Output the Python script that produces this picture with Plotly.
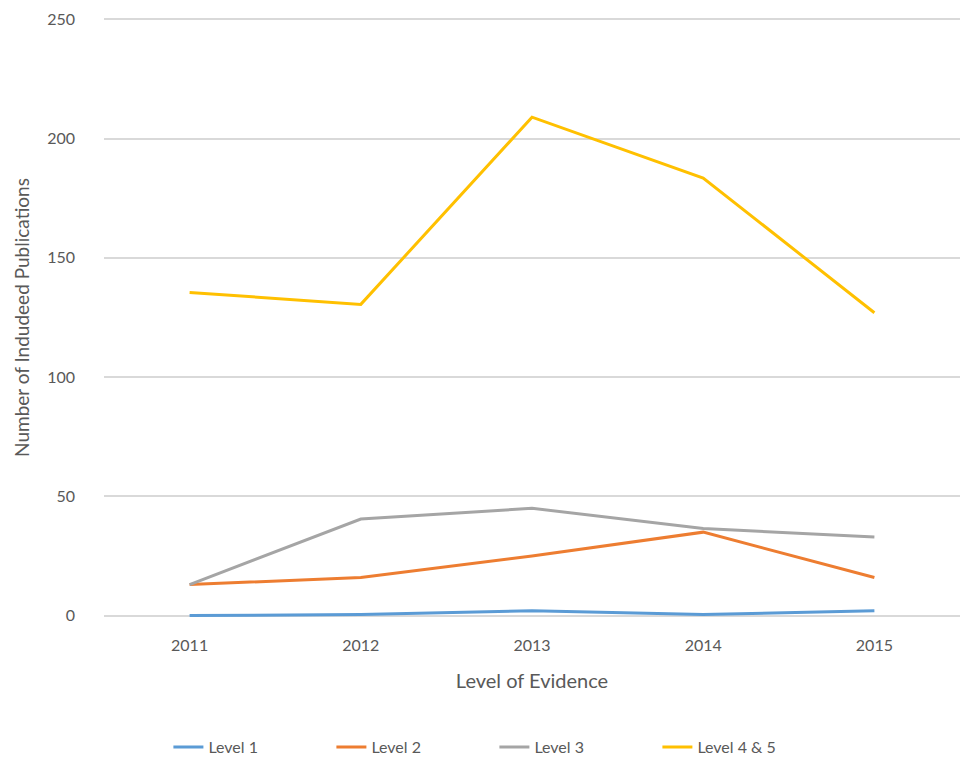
import plotly.graph_objects as go

years = ["2011", "2012", "2013", "2014", "2015"]
level1 = [0, 0.5, 2, 0.5, 2]
level2 = [13, 16, 25, 35, 16]
level3 = [13, 40.5, 45, 36.5, 33]
level45 = [135.5, 130.5, 209, 183.5, 127]

series = [
    ("Level 1", level1, "#5B9BD5"),
    ("Level 2", level2, "#ED7D31"),
    ("Level 3", level3, "#A5A5A5"),
    ("Level 4 & 5", level45, "#FFC000"),
]

fig = go.Figure()
for name, vals, color in series:
    fig.add_trace(go.Scatter(x=years, y=vals, name=name, mode="lines",
                             line=dict(color=color, width=3)))

font_color = "#595959"
grid_color = "#D9D9D9"
fig.update_layout(
    width=960, height=764,
    margin=dict(l=104, r=0, t=17, b=146, autoexpand=False),
    paper_bgcolor="white", plot_bgcolor="white",
    font=dict(family="Lato, Open Sans, sans-serif", size=16, color=font_color),
    xaxis=dict(type="category", range=[-0.5, 4.5], showgrid=False, zeroline=False, showline=False,
               ticks="", tickfont=dict(size=16, color=font_color), ticklabelstandoff=16,
               title=dict(text="Level of Evidence", font=dict(size=20, color=font_color), standoff=20)),
    yaxis=dict(range=[-1, 251], tickvals=[0, 50, 100, 150, 200, 250], showgrid=True,
               gridcolor=grid_color, gridwidth=1.5, zeroline=False, showline=False,
               tickfont=dict(size=16, color=font_color), ticklabelstandoff=28,
               title=dict(text="Number of Indudeed Publications", font=dict(size=19, color=font_color), standoff=12)),
    legend=dict(orientation="h", xref="container", x=0.515, xanchor="center",
                yref="container", y=0.022, yanchor="middle",
                font=dict(size=16, color=font_color), entrywidth=118, entrywidthmode="pixels"),
    showlegend=True,
)
fig.write_html("out.html")
